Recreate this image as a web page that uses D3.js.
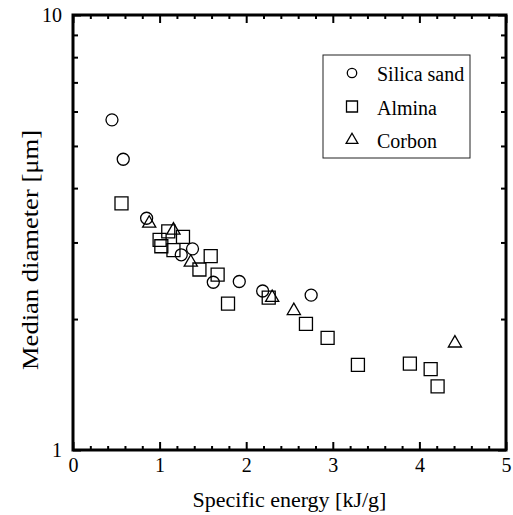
<!DOCTYPE html>
<html>
<head>
<meta charset="utf-8">
<script src="https://cdn.jsdelivr.net/npm/d3@7"></script>
<style>
  body { margin: 0; background: #fff; }
</style>
</head>
<body>
<svg id="chart" width="513" height="515"></svg>
<script>
// data (specific energy kJ/g, median diameter um)
const silicaX = [0.45, 0.58, 0.85, 1.38, 1.25, 1.62, 1.92, 2.19, 2.75];
const silicaY = [5.74, 4.66, 3.41, 2.90, 2.81, 2.43, 2.44, 2.32, 2.27];

const alminaX = [0.56, 1.00, 1.02, 1.10, 1.27, 1.16, 1.59, 1.46, 1.67, 1.79, 2.26, 2.69, 2.94, 3.29, 3.89, 4.13, 4.21];
const alminaY = [3.69, 3.04, 2.94, 3.18, 3.09, 2.88, 2.79, 2.60, 2.53, 2.17, 2.24, 1.95, 1.81, 1.57, 1.58, 1.535, 1.40];

const corbonX = [0.88, 1.16, 1.36, 2.30, 2.55, 4.41];
const corbonY = [3.32, 3.20, 2.70, 2.24, 2.09, 1.76];

const seriesNames = ["Silica sand", "Almina", "Corbon"];
const xTickLabels = [0, 1, 2, 3, 4, 5];
const yTickLabels = [1, 10];

const plotLeft = 73, plotTop = 15, plotRight = 506, plotBottom = 450;
const serif = "Liberation Serif";

const svg = d3.select("#chart");

const x = d3.scaleLinear().domain([0, 5]).range([plotLeft, plotRight]);
const y = d3.scaleLog().domain([1, 10]).range([plotBottom, plotTop]);

const xMinor = d3.range(0, 5.001, 0.2).filter(v => Math.abs(v - Math.round(v)) > 1e-6);
const yMinor = [2, 3, 4, 5, 6, 7, 8, 9];

function styleAxis(g) {
    g.attr("font-family", serif);
    g.select(".domain").remove();
    g.selectAll("line").attr("stroke", "#000").attr("stroke-width", 2);
    g.selectAll("text").attr("fill", "#000").style("font-family", serif).style("font-size", "20px");
}

// bottom axis, ticks pointing inward
svg.append("g")
    .attr("transform", `translate(0,${plotBottom})`)
    .call(d3.axisBottom(x).tickValues(xTickLabels).tickSize(-8).tickPadding(8).tickFormat(d3.format("d")))
    .call(styleAxis);
svg.append("g")
    .attr("transform", `translate(0,${plotBottom})`)
    .call(d3.axisBottom(x).tickValues(xMinor).tickSize(-4).tickFormat(""))
    .call(styleAxis);
// top axis
svg.append("g")
    .attr("transform", `translate(0,${plotTop})`)
    .call(d3.axisTop(x).tickValues(xTickLabels).tickSize(-8).tickFormat(""))
    .call(styleAxis);
svg.append("g")
    .attr("transform", `translate(0,${plotTop})`)
    .call(d3.axisTop(x).tickValues(xMinor).tickSize(-4).tickFormat(""))
    .call(styleAxis);

// left axis
svg.append("g")
    .attr("transform", `translate(${plotLeft},0)`)
    .call(d3.axisLeft(y).tickValues(yTickLabels).tickSize(-8).tickPadding(11).tickFormat(d3.format("d")))
    .call(styleAxis);
svg.append("g")
    .attr("transform", `translate(${plotLeft},0)`)
    .call(d3.axisLeft(y).tickValues(yMinor).tickSize(-5).tickFormat(""))
    .call(styleAxis);
// right axis
svg.append("g")
    .attr("transform", `translate(${plotRight},0)`)
    .call(d3.axisRight(y).tickValues(yTickLabels).tickSize(-8).tickFormat(""))
    .call(styleAxis);
svg.append("g")
    .attr("transform", `translate(${plotRight},0)`)
    .call(d3.axisRight(y).tickValues(yMinor).tickSize(-5).tickFormat(""))
    .call(styleAxis);

// frame
svg.append("rect")
    .attr("x", plotLeft).attr("y", plotTop)
    .attr("width", plotRight - plotLeft).attr("height", plotBottom - plotTop)
    .attr("fill", "none").attr("stroke", "#000").attr("stroke-width", 3);

// axis titles
svg.append("text")
    .attr("x", (plotLeft + plotRight) / 2).attr("y", 507)
    .attr("text-anchor", "middle")
    .style("font-family", serif)
    .style("font-size", "22px")
    .text("Specific energy [kJ/g]");

svg.append("text")
    .attr("transform", "translate(38,250) rotate(-90)")
    .attr("text-anchor", "middle")
    .attr("textLength", 240)
    .attr("lengthAdjust", "spacingAndGlyphs")
    .style("font-family", serif)
    .style("font-size", "23px")
    .text("Median diameter [μm]");

// markers
const shapes = [
    { xs: silicaX, ys: silicaY, sym: d3.symbol().type(d3.symbolCircle).size(113) },
    { xs: alminaX, ys: alminaY, sym: d3.symbol().type(d3.symbolSquare).size(169) },
    { xs: corbonX, ys: corbonY, sym: d3.symbol().type(d3.symbolTriangle).size(75) }
];

shapes.forEach(function (s) {
    svg.append("g").selectAll("path")
        .data(s.xs.map((v, i) => [v, s.ys[i]]))
        .join("path")
        .attr("d", s.sym)
        .attr("transform", d => `translate(${x(d[0])},${y(d[1])})`)
        .attr("fill", "none")
        .attr("stroke", "#000")
        .attr("stroke-width", 1.3);
});

// legend
const legend = svg.append("g");
legend.append("rect")
    .attr("x", 323).attr("y", 55)
    .attr("width", 147).attr("height", 103)
    .attr("fill", "#fff").attr("stroke", "#222").attr("stroke-width", 1);

const legendSyms = [
    d3.symbol().type(d3.symbolCircle).size(70),
    d3.symbol().type(d3.symbolSquare).size(121),
    d3.symbol().type(d3.symbolTriangle).size(60)
];

seriesNames.forEach(function (name, i) {
    const ly = 73 + i * 33.5;
    legend.append("path")
        .attr("d", legendSyms[i])
        .attr("transform", `translate(352,${ly})`)
        .attr("fill", "none").attr("stroke", "#000").attr("stroke-width", 1.3);
    legend.append("text")
        .attr("x", 377).attr("y", ly + 8)
        .style("font-family", serif)
        .style("font-size", "20px")
        .text(name);
});
</script>
</body>
</html>
